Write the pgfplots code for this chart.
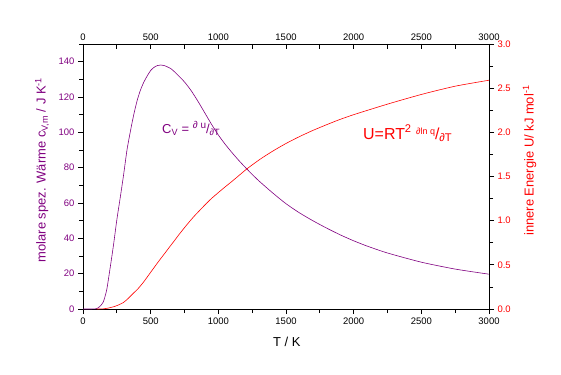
\documentclass[border=0pt]{standalone}
\usepackage{pgfplots}
\pgfplotsset{compat=1.18}
\usepackage{fontspec}
\setmainfont{Liberation Sans}
\definecolor{mypurple}{RGB}{128,0,128}

\pgfplotstableread{
T Cv
0 0
50 0
100 0.2
125 1.5
150 4
175 10.8
200 23
225 36
250 50.5
275 63
300 76
325 90
350 100.5
375 110
400 118
425 124
450 128.5
475 132
500 135
525 136.8
550 137.8
575 138.1
600 137.8
650 136
700 132.5
750 128.5
800 123.5
850 117.5
900 111
950 104.5
1000 98.5
1050 93.3
1100 88.6
1150 84.2
1200 80.1
1250 76.2
1300 72.5
1400 65.8
1500 59.6
1600 54.4
1700 49.9
1800 45.8
1900 42
2000 38.6
2100 35.6
2250 31.7
2500 26.5
2750 22.6
3000 19.7
}\cvdata

\pgfplotstableread{
T U
100 0
150 0.002
185 0.01
225 0.025
261 0.045
300 0.075
335 0.121
370 0.175
409 0.234
450 0.31
483 0.38
520 0.458
557 0.536
600 0.622
631 0.685
670 0.763
705 0.834
740 0.902
779 0.975
820 1.048
877 1.14
911 1.194
950 1.252
1000 1.318
1050 1.382
1111 1.458
1210 1.585
1308 1.695
1407 1.792
1505 1.878
1604 1.955
1702 2.024
1801 2.087
1899 2.146
2010 2.205
2256 2.322
2503 2.43
2749 2.522
3000 2.59
}\udata

\begin{document}
\begin{tikzpicture}[x=1bp,y=1bp]
\path[use as bounding box] (0,0) rectangle (561,374);
% main axis: bottom x, left y
\begin{axis}[
  at={(83bp,65bp)}, anchor=south west,
  scale only axis, width=406bp, height=265bp,
  xmin=0, xmax=3000, ymin=0, ymax=150,
  axis x line*=bottom, axis y line*=left,
  axis line style={black, line width=0.8pt, -},
  tick align=outside,
  major tick length=5bp, minor tick length=4bp,
  every tick/.style={black, line width=0.8pt},
  xtick={0,500,1000,1500,2000,2500,3000},
  minor xtick={250,750,1250,1750,2250,2750},
  ytick={0,20,40,60,80,100,120,140},
  minor ytick={10,30,50,70,90,110,130,150},
  /pgf/number format/assume math mode=true,
  /pgf/number format/1000 sep={},
  xticklabel style={font=\fontsize{9.5}{10}\selectfont, text=black},
  yticklabel style={font=\fontsize{9.5}{10}\selectfont, text=mypurple},
  xlabel={T / K},
  xlabel style={font=\fontsize{13}{15}\selectfont, at={(axis description cs:0.502,-0.123)}, anchor=center},
  ylabel={molare spez. Wärme c\textsubscript{V,m} / J K\textsuperscript{-1}},
  ylabel style={font=\fontsize{13}{15}\selectfont, text=mypurple, at={(axis description cs:-0.101,0.525)}, anchor=center},
  clip=false,
]
\addplot[mypurple, line width=0.6pt, smooth, tension=0.4] table[x=T, y=Cv] {\cvdata};
\node[anchor=base west, text=mypurple, font=\fontsize{13}{15}\selectfont, inner sep=0pt] at (axis cs:584,99.6)
  {C\textsubscript{V} = {\fontsize{10}{11}\selectfont\raisebox{0.8ex}{∂ u}}/\textsubscript{∂T}};
\node[anchor=base west, text=red, font=\fontsize{16}{18}\selectfont, inner sep=0pt] at (axis cs:2069,96.2)
  {U=RT\textsuperscript{2} {\fontsize{9}{10}\selectfont\raisebox{0.9ex}{∂ln q}}/\textsubscript{∂T}};
\end{axis}
% top x axis
\begin{axis}[
  at={(83bp,65bp)}, anchor=south west,
  scale only axis, width=406bp, height=265bp,
  xmin=0, xmax=3000, ymin=0, ymax=150,
  axis x line*=top, hide y axis,
  axis line style={black, line width=0.8pt, -},
  tick align=inside,
  major tick length=5bp, minor tick length=5bp,
  every tick/.style={black, line width=0.8pt},
  xtick={0,500,1000,1500,2000,2500,3000},
  minor xtick={250,750,1250,1750,2250,2750},
  /pgf/number format/assume math mode=true,
  /pgf/number format/1000 sep={},
  xticklabel style={font=\fontsize{9.5}{10}\selectfont, text=black},
]
\end{axis}
% right y axis
\begin{axis}[
  at={(83bp,65bp)}, anchor=south west,
  scale only axis, width=406bp, height=265bp,
  xmin=0, xmax=3000, ymin=0, ymax=3,
  axis y line*=right, hide x axis,
  axis line style={black, line width=0.8pt, -},
  tick align=outside,
  major tick length=5bp, minor tick length=4bp,
  every tick/.style={black, line width=0.8pt},
  ytick={0,0.5,1,1.5,2,2.5,3},
  minor ytick={0.25,0.75,1.25,1.75,2.25,2.75},
  /pgf/number format/assume math mode=true,
  yticklabel style={font=\fontsize{9.5}{10}\selectfont, text=red,
    /pgf/number format/.cd, fixed, fixed zerofill, precision=1},
  ylabel={innere Energie U/ kJ mol\textsuperscript{-1}},
  ylabel style={font=\fontsize{13}{15}\selectfont, text=red, at={(axis description cs:1.10,0.56)}, anchor=center},
]
\addplot[red, line width=0.6pt, smooth, tension=0.4] table[x=T, y=U] {\udata};
\end{axis}
\end{tikzpicture}
\end{document}
